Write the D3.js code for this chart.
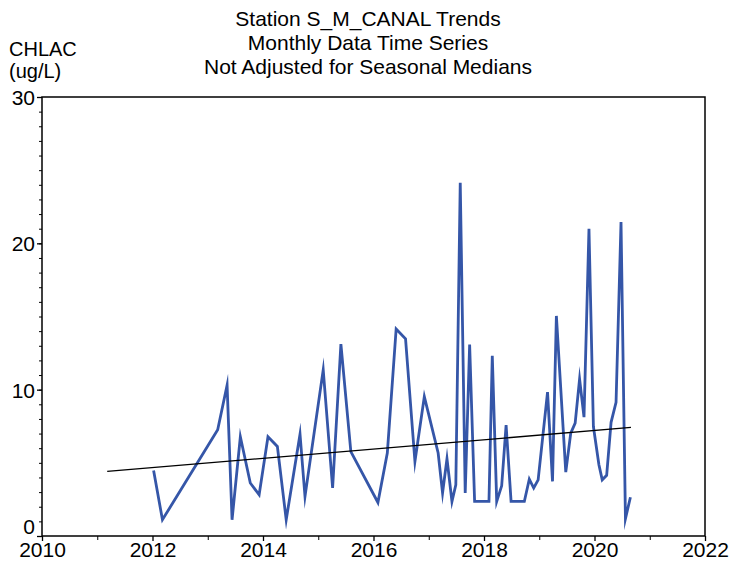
<!DOCTYPE html>
<html>
<head>
<meta charset="utf-8">
<script src="https://cdn.jsdelivr.net/npm/d3@7"></script>
<style>
  html, body { margin: 0; padding: 0; background: #fff; }
  svg { display: block; }
  text { font-family: "Liberation Sans", Arial, sans-serif; fill: #000; }
</style>
</head>
<body>
<svg id="chart" width="729" height="562"></svg>
<script>
// ---- data (decimal years, CHLAC ug/L) ----
const sampleYears = [
  2012.02, 2012.18, 2013.18, 2013.35, 2013.44, 2013.59, 2013.77, 2013.93, 2014.09, 2014.26,
  2014.42, 2014.67, 2014.76, 2015.09, 2015.26, 2015.41, 2015.59, 2016.08, 2016.25, 2016.41,
  2016.58, 2016.75, 2016.92, 2017.17, 2017.25, 2017.33, 2017.42, 2017.49, 2017.57, 2017.66,
  2017.74, 2017.83, 2018.09, 2018.15, 2018.23, 2018.32, 2018.40, 2018.49, 2018.73, 2018.82,
  2018.90, 2018.98, 2019.15, 2019.24, 2019.31, 2019.48, 2019.57, 2019.65, 2019.73, 2019.81,
  2019.90, 2019.98, 2020.08, 2020.14, 2020.22, 2020.30, 2020.39, 2020.48, 2020.56, 2020.65
];
const chlacValues = [
  4.48, 1.11, 7.26, 10.31, 1.11, 6.78, 3.62, 2.82, 6.78, 6.12,
  1.11, 6.96, 2.70, 11.35, 3.28, 13.11, 5.77, 2.29, 5.67, 14.15,
  13.47, 5.09, 9.53, 5.67, 2.94, 5.28, 2.36, 3.50, 24.14, 2.94,
  13.08, 2.36, 2.36, 12.31, 2.36, 3.43, 7.58, 2.36, 2.36, 3.89,
  3.28, 3.84, 9.83, 3.73, 15.04, 4.37, 7.03, 7.71, 10.72, 8.12,
  21.00, 7.48, 4.87, 3.84, 4.15, 7.77, 9.13, 21.45, 1.18, 2.65
];
const trendYears = [2011.18, 2020.66];
const trendValues = [4.41, 7.42];

const xMajorTicks = [2010, 2012, 2014, 2016, 2018, 2020, 2022];
const xMinorTicks = [2011, 2013, 2015, 2017, 2019, 2021];
const yMajorTicks = [0, 10, 20, 30];
const yMinorTicks = d3.range(0, 31, 1);

const titleLines = ["Station S_M_CANAL Trends", "Monthly Data Time Series", "Not Adjusted for Seasonal Medians"];
const yLabelLines = ["CHLAC", "(ug/L)"];

// ---- layout ----
const svg = d3.select("#chart");
const L = 42, R = 705, T = 97, B = 536;
const x = d3.scaleLinear().domain([2010, 2022]).range([L, R]);
const y = d3.scaleLinear().domain([0, 30]).range([B, T]);
const FS = 21;

// titles
svg.append("g").selectAll("text").data(titleLines).join("text")
  .attr("x", 368).attr("y", (d, i) => 26 + i * 24)
  .attr("text-anchor", "middle").attr("font-size", FS).text(d => d);

// y label (two lines)
svg.append("g").selectAll("text").data(yLabelLines).join("text")
  .attr("x", 9).attr("y", (d, i) => 56 + i * 22)
  .attr("font-size", 20).text(d => d);

// minor ticks
svg.append("g").attr("transform", `translate(${L},0)`)
  .call(d3.axisLeft(y).tickValues(yMinorTicks).tickSize(3).tickFormat(""))
  .call(g => g.select(".domain").remove())
  .call(g => g.selectAll("line").attr("stroke", "#000").attr("stroke-width", 1));
svg.append("g").attr("transform", `translate(0,${B})`)
  .call(d3.axisBottom(x).tickValues(xMinorTicks).tickSize(4).tickFormat(""))
  .call(g => g.select(".domain").remove())
  .call(g => g.selectAll("line").attr("stroke", "#000").attr("stroke-width", 1));

// major y axis
const yAx = svg.append("g").attr("transform", `translate(${L},0)`)
  .call(d3.axisLeft(y).tickValues(yMajorTicks).tickSize(5).tickPadding(2).tickFormat(d3.format("d")));
yAx.select(".domain").remove();
yAx.selectAll("line").attr("stroke", "#000").attr("stroke-width", 1.3);
yAx.selectAll("text").attr("font-size", FS).attr("font-family", "Liberation Sans, Arial, sans-serif")
  .attr("fill", "#000")
  .attr("dy", d => d === 0 ? "-0.1em" : "0.36em");

// major x axis
const xAx = svg.append("g").attr("transform", `translate(0,${B})`)
  .call(d3.axisBottom(x).tickValues(xMajorTicks).tickSize(5).tickPadding(1).tickFormat(d3.format("d")));
xAx.select(".domain").remove();
xAx.selectAll("line").attr("stroke", "#000").attr("stroke-width", 1.3);
xAx.selectAll("text").attr("font-size", FS).attr("font-family", "Liberation Sans, Arial, sans-serif")
  .attr("fill", "#000");

// frame
svg.append("rect").attr("x", L).attr("y", T).attr("width", R - L).attr("height", B - T)
  .attr("fill", "none").attr("stroke", "#000").attr("stroke-width", 1.5);

// series
const pts = sampleYears.map((t, i) => [t, chlacValues[i]]);
svg.append("path").datum(pts)
  .attr("fill", "none").attr("stroke", "#3556a8").attr("stroke-width", 2.8)
  .attr("stroke-linejoin", "miter").attr("stroke-miterlimit", 10)
  .attr("d", d3.line().x(d => x(d[0])).y(d => y(d[1])));

// trend
const tr = trendYears.map((t, i) => [t, trendValues[i]]);
svg.append("path").datum(tr)
  .attr("fill", "none").attr("stroke", "#000").attr("stroke-width", 1.3)
  .attr("d", d3.line().x(d => x(d[0])).y(d => y(d[1])));
</script>
</body>
</html>
